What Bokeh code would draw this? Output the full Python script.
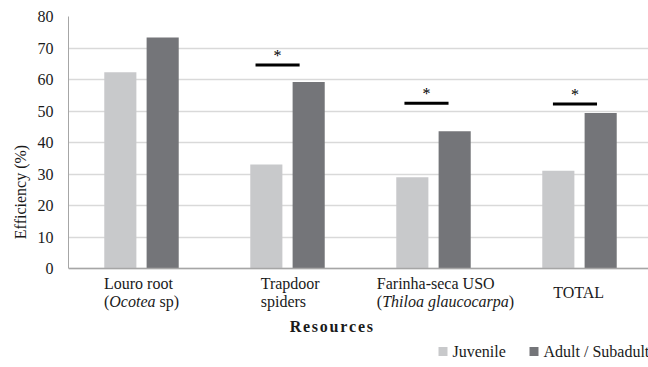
from bokeh.plotting import figure
from bokeh.models import Range1d, FixedTicker, ColumnDataSource
from bokeh.core.properties import value
from bokeh.embed import file_html
from bokeh.resources import INLINE

# ---------------- data ----------------
categories = ["Louro root (Ocotea sp)", "Trapdoor spiders",
              "Farinha-seca USO (Thiloa glaucocarpa)", "TOTAL"]
cat_label_lines = [
    [[("Louro root", False)], [("(", False), ("Ocotea", True), (" sp)", False)]],
    [[("Trapdoor", False)], [("spiders", False)]],
    [[("Farinha-seca USO", False)], [("(", False), ("Thiloa glaucocarpa", True), (")", False)]],
    [[("TOTAL", False)]],
]
juvenile = [62.3, 33.0, 29.0, 31.0]
adult = [73.3, 59.2, 43.6, 49.4]
series_names = ["Juvenile", "Adult / Subadult"]
sig_index = [1, 2, 3]
sig_level = [64.6, 52.5, 52.2]
y_ticks = [0, 10, 20, 30, 40, 50, 60, 70, 80]
y_title = "Efficiency (%)"
x_title = "Resources"

# ---------------- style ----------------
C_JUV = "#c8c9cb"
C_AD = "#747579"
C_AXIS = "#a6a6a6"
C_GRID = "#d9d9d9"
FONT = "Liberation Serif"
FS = 16
TXT = "#1a1a1a"
W, H = 648, 367
LEFT, TOP = 68, 16
FRAME_W = W - LEFT
PX_PER_CAT = 146.0
PX_PER_UNIT = 252 / 80.0
Y_MAX = 80
BELOW_PX = H - TOP - Y_MAX * PX_PER_UNIT   # strip below the value axis
BASE_FIX = -6.0   # renderer baseline correction (px)

W_REG = {' ': .25, '(': .333, ')': .333, '-': .333, '%': .833, 'A': .722, 'L': .611,
         'O': .722, 'S': .556, 'T': .611, 'U': .722, 'F': .556, 'a': .444, 'c': .444,
         'd': .5, 'e': .444, 'i': .278, 'n': .5, 'o': .5, 'p': .5, 'r': .333, 's': .389,
         't': .278, 'u': .5, 'h': .5, 'l': .278, 'g': .5, 'J': .389, 'v': .5, '/': .278,
         'b': .5}
W_IT = {' ': .25, 'O': .722, 'c': .444, 'o': .5, 't': .278, 'e': .444, 'a': .5, 'T': .556,
        'h': .5, 'i': .278, 'l': .278, 'g': .5, 'u': .5, 'r': .389, 'p': .5}
W_BOLD = {'R': .722, 'e': .444, 's': .389, 'o': .5, 'u': .556, 'r': .444, 'c': .444}


def tw(s, italic=False, size=FS):
    table = W_IT if italic else W_REG
    return sum(table.get(ch, .5) for ch in s) * size


def below(px):
    """data y for a point px pixels below the zero line"""
    return -px / PX_PER_UNIT


X_END = FRAME_W / PX_PER_CAT
p = figure(width=W, height=H, output_backend="svg", toolbar_location=None,
           x_range=Range1d(0, X_END), y_range=Range1d(below(BELOW_PX), Y_MAX),
           min_border_left=LEFT, min_border_right=0, min_border_top=TOP, min_border_bottom=0)
p.outline_line_color = None
p.xaxis.visible = False
p.xgrid.visible = False

p.ygrid.ticker = FixedTicker(ticks=y_ticks)
p.ygrid.grid_line_color = C_GRID
p.ygrid.grid_line_width = 1.4

n = len(categories)
bar_w = 0.22
off = 0.145
xj = [i + 0.5 - off for i in range(n)]
xa = [i + 0.5 + off for i in range(n)]
p.vbar(x=xj, top=juvenile, width=bar_w, bottom=0, fill_color=C_JUV, line_color=None)
p.vbar(x=xa, top=adult, width=bar_w, bottom=0, fill_color=C_AD, line_color=None)

# category axis line
p.segment(x0=[0], x1=[X_END], y0=[0], y1=[0], line_color=C_AXIS, line_width=1.5)

# significance markers
sig_shift = [-0.068, -0.048, -0.031]
sx = [sig_index[k] + 0.5 + sig_shift[k] for k in range(len(sig_index))]
half = 0.151
p.segment(x0=[v - half for v in sx], x1=[v + half for v in sx], y0=sig_level, y1=sig_level,
          line_color="black", line_width=3)
p.text(x=sx, y=sig_level, text=["*"] * len(sx), text_align="center",
       text_baseline="alphabetic", y_offset=-4 + BASE_FIX, text_font=value(FONT),
       text_font_size="16px", text_color="black")

# value axis
p.yaxis.ticker = FixedTicker(ticks=y_ticks)
p.yaxis.bounds = (0, Y_MAX)
p.yaxis.major_tick_line_color = None
p.yaxis.minor_tick_line_color = None
p.yaxis.major_tick_out = 0
p.yaxis.major_label_standoff = 15
p.yaxis.axis_line_color = C_AXIS
p.yaxis.major_label_text_font = FONT
p.yaxis.major_label_text_font_size = "16px"
p.yaxis.major_label_text_color = TXT
p.yaxis.axis_label = y_title
p.yaxis.axis_label_text_font = FONT
p.yaxis.axis_label_text_font_size = "16px"
p.yaxis.axis_label_text_font_style = "normal"
p.yaxis.axis_label_text_color = TXT
p.yaxis.axis_label_standoff = 6

# category labels (left aligned blocks with italics)
tx, ty, txo, tyo, tt, tst = [], [], [], [], [], []
block_shift = [0, 3, 12, 0]
for i, lines in enumerate(cat_label_lines):
    widths = [sum(tw(t, it) for t, it in line) for line in lines]
    left = -max(widths) / 2 + block_shift[i]
    nl = len(lines)
    for j, line in enumerate(lines):
        base = 29.5 + (j - (nl - 1) / 2) * 18 + BASE_FIX
        xo = left
        for t, it in line:
            lead = len(t) - len(t.lstrip(' '))
            xo += tw(' ' * lead, it)
            s = t.lstrip(' ')
            tx.append(i + 0.5); ty.append(0); txo.append(xo); tyo.append(base); tt.append(s)
            tst.append("italic" if it else "normal")
            xo += tw(s, it)

# category axis title (letter spaced bold)
spacing = 1.75
chars = list(x_title)
total = sum(W_BOLD.get(c, .5) * FS for c in chars) + spacing * (len(chars) - 1)
xo = -total / 2
for c in chars:
    tx.append(1.8); ty.append(0); txo.append(xo); tyo.append(63.5 + BASE_FIX); tt.append(c)
    tst.append("bold")
    xo += W_BOLD.get(c, .5) * FS + spacing

src = ColumnDataSource(dict(x=tx, y=ty, xo=txo, yo=tyo, text=tt, style=tst))
p.text(x="x", y="y", x_offset="xo", y_offset="yo", text="text", text_font_style="style",
       source=src, text_font=value(FONT), text_font_size="16px", text_color=TXT,
       text_align="left", text_baseline="alphabetic")

# legend (manual)
leg_sq_x = [(442.5 - LEFT) / PX_PER_CAT, (533.5 - LEFT) / PX_PER_CAT]
leg_tx_x = [(452 - LEFT) / PX_PER_CAT, (543 - LEFT) / PX_PER_CAT]
p.scatter(x=leg_sq_x, y=[below(83.0)] * 2, marker="square", size=9,
          fill_color=[C_JUV, C_AD], line_color=None)
p.text(x=leg_tx_x, y=[0, 0], y_offset=82.5, text=series_names, text_font=value(FONT),
       text_font_size="16px", text_color=TXT, text_align="left", text_baseline="alphabetic")

open("out.html", "w").write(file_html(p, INLINE))
